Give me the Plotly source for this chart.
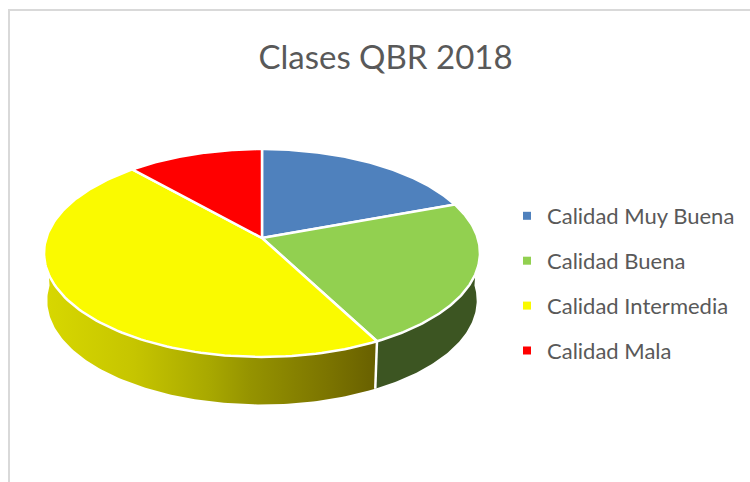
import numpy as np
import plotly.graph_objects as go

categories = ["Calidad Muy Buena", "Calidad Buena", "Calidad Intermedia", "Calidad Mala"]
values = [19.4, 22.9, 46.1, 11.6]
colors = ["#4F81BD", "#92D050", "#FAFA00", "#FF0000"]
title_text = "Clases QBR 2018"

W, H = 750, 482
CX, APEX_Y = 262, 238
A, B, K = 101.8, 215.7, 0.144
DEPTH = 47.5


def rim(theta):
    u, v = np.sin(theta), np.cos(theta)
    d = 1 + K * v
    return CX + B * u / d, APEX_Y - A * v / d


def lower(theta):
    x, y = rim(theta)
    return CX + (x - CX) * 0.985, y + DEPTH


total = sum(values)
edges = np.cumsum([0] + values) / total * 2 * np.pi
fig = go.Figure()

# side wall: visible part of the rim facing the viewer
split = edges[2]
t_y = np.linspace(split, 1.5 * np.pi, 120)
xa, ya = rim(t_y)
xb, yb = lower(t_y)
fig.add_trace(go.Scatter(
    x=np.r_[xa, xb[::-1]], y=np.r_[ya, yb[::-1]], mode="lines", fill="toself",
    line=dict(width=0), showlegend=False, hoverinfo="skip",
    fillgradient=dict(type="horizontal", start=44, stop=376, colorscale=[
        [0, "#D8D800"], [0.27, "#C6C500"], [0.5, "#A8A800"], [0.62, "#959300"],
        [0.85, "#7C7500"], [1, "#686000"]]),
))
t_g = np.linspace(0.5 * np.pi, split, 80)
xa, ya = rim(t_g)
xb, yb = lower(t_g)
fig.add_trace(go.Scatter(
    x=np.r_[xa, xb[::-1]], y=np.r_[ya, yb[::-1]], mode="lines", fill="toself",
    line=dict(width=0), fillcolor="#3C5522", showlegend=False, hoverinfo="skip",
))
# seam between the two visible wall pieces
sx0, sy0 = rim(split)
sx1, sy1 = lower(split)
fig.add_trace(go.Scatter(x=[sx0, sx1], y=[sy0, sy1], mode="lines",
                         line=dict(color="white", width=2.5), showlegend=False, hoverinfo="skip"))

# top face
for i, c in enumerate(colors):
    t = np.linspace(edges[i], edges[i + 1], 120)
    x, y = rim(t)
    fig.add_trace(go.Scatter(
        x=np.r_[CX, x, CX], y=np.r_[APEX_Y, y, APEX_Y], mode="lines", fill="toself",
        fillcolor=c, line=dict(color="white", width=2.5), showlegend=False,
        hovertext=categories[i], hoverinfo="text",
    ))

# legend entries
for name, c in zip(categories, colors):
    fig.add_trace(go.Scatter(x=[None], y=[None], mode="markers", name=name, legendgroup=name,
                             marker=dict(symbol="square", size=8, color=c)))

fig.update_layout(
    width=W, height=H, margin=dict(l=0, r=0, t=0, b=0),
    paper_bgcolor="white", plot_bgcolor="white",
    xaxis=dict(range=[0, W], visible=False, fixedrange=True),
    yaxis=dict(range=[H, 0], visible=False, fixedrange=True),
    title=dict(text=title_text, x=385.5 / W, xanchor="center", y=1 - 57 / H, yanchor="middle",
               font=dict(family="Lato", size=33, color="#595959")),
    legend=dict(x=507 / W, y=1 - 195 / H, xanchor="left", yanchor="top",
                tracegroupgap=13.3, itemclick=False, itemdoubleclick=False,
                font=dict(family="Lato", size=22, color="#595959"), bgcolor="rgba(0,0,0,0)"),
    shapes=[dict(type="rect", xref="x", yref="y", x0=9, y0=10, x1=W + 5, y1=H + 5,
                 line=dict(color="#D9D9D9", width=2), layer="below")],
)
fig.write_html("out.html", config=dict(displayModeBar=False),
               post_script="document.body.style.margin='0';document.body.style.overflow='hidden';")
